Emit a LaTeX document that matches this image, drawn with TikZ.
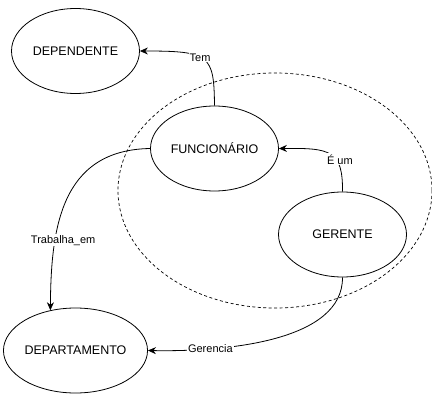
\documentclass[tikz,border=0pt]{standalone}
\usepackage{fontspec}
\setmainfont{Liberation Sans}
\usetikzlibrary{arrows.meta,shapes.geometric}
\begin{document}
\begin{tikzpicture}[x=1pt,y=-1pt,
  entity/.style={draw, ellipse, line width=0.8pt, minimum width=128pt, minimum height=85pt, inner sep=0pt, font=\fontsize{12.5}{14}\selectfont},
  rel/.style={draw, line width=0.8pt, -{Stealth[length=8pt,width=7pt]}},
  lbl/.style={fill=white, inner sep=1pt, font=\fontsize{11}{13}\selectfont}]
  \useasboundingbox (0,0) rectangle (432,394);
  % generalization boundary
  \draw[dashed, dash pattern=on 3pt off 2.5pt, line width=0.7pt] (275,190.5) ellipse [x radius=157, y radius=117.5];
  % entities
  \node[entity] (dep)  at (75.5,51)  {DEPENDENTE};
  \node[entity] (func) at (214.5,148.5) {FUNCIONÁRIO};
  \node[entity] (ger)  at (342.5,234.5) {GERENTE};
  \node[entity] (dept) at (75.5,350.5) {DEPARTAMENTO};
  % relationships
  \draw[rel] (func.north) .. controls (214,55) and (210,51) .. (dep.east)
    node[lbl, pos=0.55] {Tem};
  \draw[rel] (ger.north) .. controls (343,150) and (330,148) .. (func.east)
    node[lbl, pos=0.38, xshift=4pt] {É um};
  \draw[rel] (func.west) .. controls (60,150) and (51,230) .. (dept.122)
    node[lbl, pos=0.7, xshift=8pt] {Trabalha\_em};
  \draw[rel] (ger.south) .. controls (343,340) and (230,352) .. (dept.east)
    node[lbl, pos=0.76] {Gerencia};
\end{tikzpicture}
\end{document}
